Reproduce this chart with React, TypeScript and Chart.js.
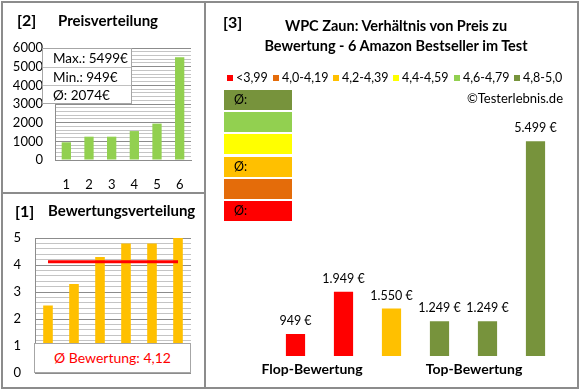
import React, { useEffect, useRef } from 'react';
import { Chart, registerables } from 'chart.js';

Chart.register(...registerables);

const FONT = 'Lato, "Open Sans", sans-serif';

// ---- Panel [2] Preisverteilung ----
const priceRankLabels = ['1', '2', '3', '4', '5', '6'];
const priceSorted = [949, 1249, 1249, 1550, 1949, 5499];
const priceAxisMin = 0;
const priceAxisMax = 6000;
const priceStats = ['Max.: 5499€', 'Min.: 949€', 'Ø: 2074€'];

// ---- Panel [1] Bewertungsverteilung ----
const ratingRankLabels = ['1', '2', '3', '4', '5', '6'];
const ratingSorted = [2.5, 3.3, 4.3, 4.8, 4.8, 5.0];
const ratingAverageLine = [4.12, 4.12, 4.12, 4.12, 4.12, 4.12];
const ratingAxisMin = 0;
const ratingAxisMax = 5;
const ratingAverageText = 'Ø Bewertung: 4,12';

// ---- Panel [3] Verhältnis von Preis zu Bewertung ----
const productLabels = ['A', 'B', 'C', 'D', 'E', 'F'];
const productPrices = [949, 1949, 1550, 1249, 1249, 5499];
const productColors = ['#FF0000', '#FF0000', '#FFC000', '#77933C', '#77933C', '#77933C'];
const productAxisMin = 430;
const productAxisMax = 6000;
const legendLabels = ['<3,99', '4,0-4,19', '4,2-4,39', '4,4-4,59', '4,6-4,79', '4,8-5,0'];
const legendColors = ['#FF0000', '#E46C0A', '#FFC000', '#FFFF00', '#92D050', '#77933C'];
const stackColors = ['#77933C', '#92D050', '#FFFF00', '#FFC000', '#E46C0A', '#FF0000'];
const stackTexts = ['Ø:', '', '', 'Ø:', '', 'Ø:'];
const groupLabels = ['Flop-Bewertung', 'Top-Bewertung'];
const titleLines = ['WPC Zaun: Verhältnis von Preis zu', 'Bewertung - 6 Amazon Bestseller im Test'];

const fmtEuro = (v: number) => String(v).replace(/\B(?=(\d{3})+(?!\d))/g, '.') + ' €';

const valueLabelPlugin = {
  id: 'valueLabels',
  afterDatasetsDraw(chart: any) {
    const ctx = chart.ctx;
    const meta = chart.getDatasetMeta(0);
    const ds = chart.data.datasets[0];
    ctx.save();
    ctx.font = '12.5px ' + FONT;
    ctx.fillStyle = '#000';
    ctx.textAlign = 'center';
    ctx.textBaseline = 'middle';
    meta.data.forEach((bar: any, i: number) => {
      ctx.fillText(fmtEuro(ds.data[i]), bar.x, bar.y - 13);
    });
    ctx.restore();
  },
};

const legendX = [227, 273, 333, 393, 454, 514];
const groupCenters = [312, 474];

export default function App() {
  const c1 = useRef<HTMLCanvasElement>(null);
  const c2 = useRef<HTMLCanvasElement>(null);
  const c3 = useRef<HTMLCanvasElement>(null);

  useEffect(() => {
    Chart.defaults.font.family = FONT;
    Chart.defaults.color = '#000';

    const priceChart = new Chart(c2.current!, {
      type: 'bar',
      data: {
        labels: priceRankLabels,
        datasets: [{ data: priceSorted, backgroundColor: '#92D050', barPercentage: 0.41, categoryPercentage: 1 }],
      },
      options: {
        animation: false,
        responsive: false,
        events: [],
        layout: { padding: { left: 0, top: 48, right: 14, bottom: 0 } },
        plugins: { legend: { display: false }, tooltip: { enabled: false } },
        scales: {
          x: {
            grid: { display: false, drawTicks: false },
            border: { display: true, color: '#8c8c8c' },
            ticks: { font: { size: 13 }, padding: 17 },
            afterFit: (s: any) => { s.height = 33; },
          },
          y: {
            min: priceAxisMin,
            max: priceAxisMax,
            ticks: {
              stepSize: 200,
              autoSkip: false,
              padding: 12,
              font: { size: 13 },
              callback: (v: any) => (Number(v) % 1000 === 0 ? String(v) : ''),
            },
            grid: {
              drawTicks: false,
              color: (ctx: any) => (ctx.tick && ctx.tick.value % 1000 === 0 ? '#8c8c8c' : '#c4c4c4'),
            },
            border: { display: true, color: '#8c8c8c' },
            afterFit: (s: any) => { s.width = 55; s.paddingTop = 0; s.paddingBottom = 0; },
          },
        },
      },
    });

    const ratingChart = new Chart(c1.current!, {
      type: 'bar',
      data: {
        labels: ratingRankLabels,
        datasets: [
          {
            type: 'line',
            data: ratingAverageLine,
            borderColor: '#FF0000',
            borderWidth: 3,
            pointRadius: 0,
            order: 0,
          } as any,
          { type: 'bar', data: ratingSorted, backgroundColor: '#FFC000', barPercentage: 0.37, categoryPercentage: 1, order: 1 },
        ],
      },
      options: {
        animation: false,
        responsive: false,
        events: [],
        layout: { padding: { left: 0, top: 45, right: 14, bottom: 15 } },
        plugins: { legend: { display: false }, tooltip: { enabled: false } },
        scales: {
          x: { display: false },
          y: {
            min: ratingAxisMin,
            max: ratingAxisMax,
            ticks: {
              stepSize: 0.2,
              autoSkip: false,
              padding: 14,
              font: { size: 13 },
              callback: (v: any) => (Math.abs(Number(v) - Math.round(Number(v))) < 1e-6 ? String(Math.round(Number(v))) : ''),
            },
            grid: {
              drawTicks: false,
              color: (ctx: any) =>
                ctx.tick && Math.abs(ctx.tick.value - Math.round(ctx.tick.value)) < 1e-6 ? '#8c8c8c' : '#c4c4c4',
            },
            border: { display: true, color: '#8c8c8c' },
            afterFit: (s: any) => { s.width = 35; s.paddingTop = 0; s.paddingBottom = 0; },
          },
        },
      },
    });

    const productChart = new Chart(c3.current!, {
      type: 'bar',
      data: {
        labels: productLabels,
        datasets: [{ data: productPrices, backgroundColor: productColors, barPercentage: 0.4, categoryPercentage: 1 }],
      },
      options: {
        animation: false,
        responsive: false,
        events: [],
        layout: { padding: { left: 66.5, top: 120, right: 18.5, bottom: 32 } },
        plugins: { legend: { display: false }, tooltip: { enabled: false } },
        scales: {
          x: { display: false },
          y: { display: false, min: productAxisMin, max: productAxisMax },
        },
      },
      plugins: [valueLabelPlugin],
    });

    return () => {
      priceChart.destroy();
      ratingChart.destroy();
      productChart.destroy();
    };
  }, []);

  const abs = (s: any): any => ({ position: 'absolute', ...s });

  return (
    <div style={abs({ left: 0, top: 0, width: 580, height: 390, background: '#fff', fontFamily: FONT, color: '#000', overflow: 'hidden' })}>
      <canvas ref={c2} width={205} height={193} style={abs({ left: 0, top: 0, width: 205, height: 193 })} />
      <canvas ref={c1} width={205} height={195} style={abs({ left: 0, top: 193, width: 205, height: 195 })} />
      <canvas ref={c3} width={373} height={388} style={abs({ left: 205, top: 0, width: 373, height: 388 })} />

      {/* borders */}
      <div style={abs({ left: 1, top: 1, width: 578, height: 388, border: '2px solid #8c8c8c', boxSizing: 'border-box' })} />
      <div style={abs({ left: 204, top: 1, width: 2, height: 388, background: '#8c8c8c' })} />
      <div style={abs({ left: 1, top: 192, width: 204, height: 2, background: '#8c8c8c' })} />

      {/* panel 2 header */}
      <div style={abs({ left: 17, top: 10, fontSize: 16, fontWeight: 'bold', lineHeight: '20px' })}>[2]</div>
      <div style={abs({ left: 58, top: 10, fontSize: 15, fontWeight: 'bold', lineHeight: '20px' })}>Preisverteilung</div>
      <div style={abs({ left: 42, top: 48, width: 90, height: 56, border: '1px solid #a6a6a6', background: '#fff', boxSizing: 'border-box' })}>
        {priceStats.map((t, i) => (
          <div
            key={i}
            style={{
              height: 18,
              lineHeight: '18px',
              paddingLeft: 10,
              fontSize: 13.5,
              borderTop: i > 0 ? '1px solid #c0c0c0' : 'none',
              boxSizing: 'border-box',
            }}
          >
            {t}
          </div>
        ))}
      </div>

      {/* panel 1 header */}
      <div style={abs({ left: 15, top: 201, fontSize: 16, fontWeight: 'bold', lineHeight: '20px' })}>[1]</div>
      <div style={abs({ left: 48, top: 200, fontSize: 15, fontWeight: 'bold', lineHeight: '20px' })}>Bewertungsverteilung</div>
      <div
        style={abs({
          left: 34, top: 343, width: 157, height: 30, border: '1px solid #a6a6a6', background: '#fff', boxSizing: 'border-box',
          textAlign: 'center', lineHeight: '28px', fontSize: 14, color: '#FF0000',
        })}
      >
        {ratingAverageText}
      </div>

      {/* panel 3 */}
      <div style={abs({ left: 223, top: 12, fontSize: 16, fontWeight: 'bold', lineHeight: '20px' })}>[3]</div>
      <div style={abs({ left: 236, top: 16, width: 320, textAlign: 'center', fontSize: 14.5, fontWeight: 'bold', lineHeight: '20px' })}>
        {titleLines.map((t, i) => (
          <div key={i}>{t}</div>
        ))}
      </div>
      {legendLabels.map((t, i) => (
        <React.Fragment key={i}>
          <div style={abs({ left: legendX[i], top: 75, width: 6, height: 6, background: legendColors[i] })} />
          <div style={abs({ left: legendX[i] + 9, top: 70, fontSize: 12.5, lineHeight: '16px', whiteSpace: 'nowrap' })}>{t}</div>
        </React.Fragment>
      ))}
      <div style={abs({ right: 17, top: 90, fontSize: 13, lineHeight: '16px' })}>©Testerlebnis.de</div>
      {stackColors.map((c, i) => (
        <div
          key={i}
          style={abs({
            left: 224, top: 90 + i * 22.2, width: 68, height: 20, background: c,
            fontSize: 12.5, lineHeight: '20px', paddingLeft: 10, boxSizing: 'border-box',
          })}
        >
          {stackTexts[i]}
        </div>
      ))}
      {groupLabels.map((t, i) => (
        <div
          key={i}
          style={abs({ left: groupCenters[i] - 70, top: 359, width: 140, textAlign: 'center', fontSize: 14, fontWeight: 'bold', lineHeight: '20px' })}
        >
          {t}
        </div>
      ))}
    </div>
  );
}
